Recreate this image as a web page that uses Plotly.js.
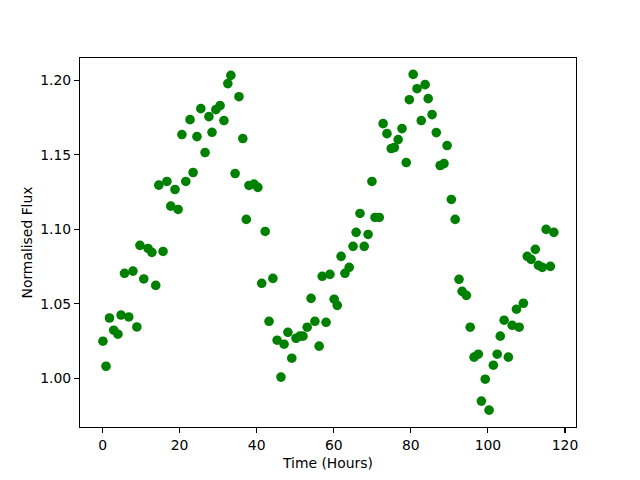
<!DOCTYPE html>
<html>
<head>
<meta charset="utf-8">
<script src="https://cdn.plot.ly/plotly-3.0.1.min.js"></script>
<style>html,body{margin:0;padding:0;background:#fff;}#plot{width:640px;height:480px;}</style>
</head>
<body>
<div id="plot"></div>
<script>
var timeHours = [0.1, 0.9, 1.8, 2.9, 4.0, 4.8, 5.7, 6.8, 7.9, 8.9, 9.7, 10.7, 11.8, 12.8, 13.8, 14.6, 15.7, 16.7, 17.7, 18.8,
  19.6, 20.6, 21.6, 22.7, 23.5, 24.5, 25.5, 26.6, 27.6, 28.4, 29.4, 30.5, 31.5, 32.5, 33.3, 34.4, 35.4, 36.4, 37.3, 38.0,
  39.3, 40.3, 41.3, 42.2, 43.2, 44.2, 45.3, 46.3, 47.1, 48.1, 49.1, 50.2, 51.2, 52.0, 53.1, 54.1, 55.1, 56.2, 57.0, 58.0,
  59.0, 60.1, 60.9, 61.9, 62.9, 64.0, 65.0, 65.8, 66.8, 67.9, 68.9, 69.9, 70.7, 71.8, 72.8, 73.8, 74.9, 75.7, 76.7, 77.7,
  78.8, 79.6, 80.6, 81.6, 82.7, 83.7, 84.5, 85.5, 86.6, 87.6, 88.6, 89.4, 90.5, 91.5, 92.5, 93.3, 94.4, 95.4, 96.4, 97.5,
  98.3, 99.3, 100.3, 101.4, 102.4, 103.2, 104.2, 105.3, 106.3, 107.4, 108.1, 109.2, 110.2, 111.2, 112.3, 113.1, 114.1, 115.1, 116.2, 117.1];
var normFlux = [1.0248, 1.0080, 1.0404, 1.0322, 1.0295, 1.0424, 1.0704, 1.0411, 1.0719, 1.0344, 1.0892, 1.0666, 1.0871, 1.0845, 1.0623, 1.1296, 1.0851, 1.1321, 1.1155, 1.1267,
  1.1133, 1.1636, 1.1321, 1.1736, 1.1381, 1.1622, 1.1810, 1.1515, 1.1756, 1.1651, 1.1803, 1.1830, 1.1730, 1.1978, 1.2033, 1.1374, 1.1890, 1.1609, 1.1066, 1.1294,
  1.1303, 1.1281, 1.0637, 1.0985, 1.0382, 1.0670, 1.0255, 1.0007, 1.0228, 1.0308, 1.0134, 1.0268, 1.0282, 1.0282, 1.0342, 1.0536, 1.0382, 1.0215, 1.0684, 1.0375,
  1.0697, 1.0530, 1.0489, 1.0818, 1.0704, 1.0744, 1.0885, 1.0979, 1.1106, 1.0885, 1.0965, 1.1321, 1.1079, 1.1079, 1.1709, 1.1642, 1.1542, 1.1549, 1.1602, 1.1676,
  1.1448, 1.1870, 1.2040, 1.1944, 1.1730, 1.1971, 1.1877, 1.1770, 1.1649, 1.1428, 1.1441, 1.1562, 1.1200, 1.1066, 1.0664, 1.0583, 1.0556, 1.0342, 1.0141, 1.0161,
  0.9846, 0.9993, 0.9785, 1.0087, 1.0161, 1.0282, 1.0389, 1.0141, 1.0355, 1.0463, 1.0342, 1.0503, 1.0818, 1.0798, 1.0865, 1.0758, 1.0744, 1.0999, 1.0751, 1.0979];

var font = {family: "DejaVu Sans, sans-serif", size: 13.9, color: "#000"};

var trace = {
  x: timeHours,
  y: normFlux,
  type: "scatter",
  mode: "markers",
  marker: {color: "#008000", size: 9.6, line: {width: 0}},
  hoverinfo: "none"
};

var layout = {
  width: 640,
  height: 480,
  margin: {l: 80, r: 64, t: 57.6, b: 52.8, pad: 0},
  paper_bgcolor: "#fff",
  plot_bgcolor: "#fff",
  showlegend: false,
  font: font,
  xaxis: {
    range: [-5.85, 122.85],
    tickvals: [0, 20, 40, 60, 80, 100, 120],
    ticktext: ["0", "20", "40", "60", "80", "100", "120"],
    ticks: "outside", ticklen: 4.9, tickwidth: 1.1, tickcolor: "#000",
    showline: true, linecolor: "#000", linewidth: 1.1, mirror: true,
    showgrid: false, zeroline: false,
    tickfont: font,
    title: {text: "Time (Hours)", font: font, standoff: 6}
  },
  yaxis: {
    range: [0.9672, 1.2150],
    tickvals: [1.00, 1.05, 1.10, 1.15, 1.20],
    ticktext: ["1.00", "1.05", "1.10", "1.15", "1.20"],
    ticks: "outside", ticklen: 4.9, tickwidth: 1.1, tickcolor: "#000",
    showline: true, linecolor: "#000", linewidth: 1.1, mirror: true,
    showgrid: false, zeroline: false,
    tickfont: font,
    title: {text: "Normalised Flux", font: font, standoff: 4}
  }
};

Plotly.newPlot("plot", [trace], layout, {staticPlot: true, displayModeBar: false});
</script>
</body>
</html>
